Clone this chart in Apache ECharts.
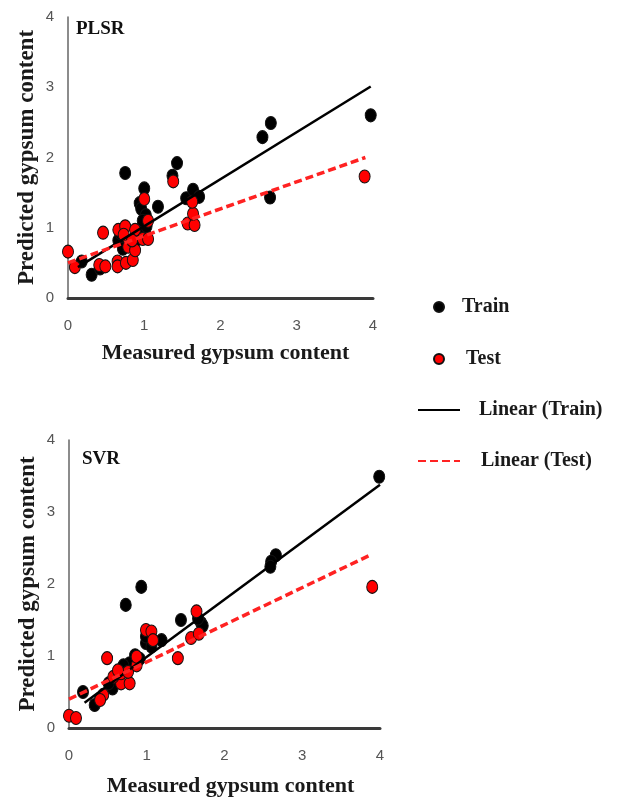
<!DOCTYPE html>
<html>
<head>
<meta charset="utf-8">
<script src="https://cdn.jsdelivr.net/npm/echarts@6/dist/echarts.min.js"></script>
<style>html,body{margin:0;padding:0;background:#fff;}#c{width:622px;height:798px;}</style>
</head>
<body>
<div id="c"></div>
<script>
// ---- data ----
var xTicks = [0, 1, 2, 3, 4];
var yTicks = [0, 1, 2, 3, 4];

var plsrTrain = [
  [3.97,2.60],[2.66,2.49],[2.55,2.29],[2.65,1.43],[1.43,1.92],[1.37,1.74],[0.75,1.78],
  [1.00,1.56],[1.18,1.30],[0.94,1.35],[0.96,1.27],[1.55,1.42],[1.64,1.54],[1.72,1.44],
  [1.02,1.18],[0.97,1.00],[0.66,0.82],[0.69,0.92],[0.18,0.52],[0.31,0.33],[0.42,0.42],
  [1.01,0.95],[1.03,1.02],[0.90,0.83],[0.98,1.10],[0.72,0.70]
];
var plsrTest = [
  [0.00,0.66],[0.09,0.44],[0.46,0.93],[0.41,0.47],[0.49,0.45],[0.65,0.52],[0.65,0.45],
  [0.76,0.50],[0.85,0.54],[0.66,0.97],[0.75,1.02],[0.88,0.97],[0.79,0.73],[0.88,0.68],
  [0.98,0.84],[1.05,0.84],[1.00,1.41],[1.05,1.10],[1.38,1.66],[1.57,1.06],[1.66,1.04],
  [1.64,1.20],[1.63,1.37],[3.89,1.73],[0.73,0.90],[0.84,0.82]
];
var plsrTrainFit = [[0.13,0.44],[3.97,3.01]];
var plsrTestFit = [[0.00,0.50],[3.90,2.00]];

var svrTrain = [
  [3.99,3.49],[2.66,2.40],[2.60,2.31],[2.59,2.24],[0.93,1.96],[0.73,1.71],[1.44,1.50],
  [1.70,1.46],[1.72,1.42],[1.19,1.22],[0.99,1.18],[1.06,1.13],[0.99,1.27],[0.85,1.01],
  [0.78,0.90],[0.70,0.87],[0.18,0.50],[0.33,0.32],[0.40,0.41],[0.56,0.55],[0.51,0.62],
  [0.91,0.96],[1.66,1.52]
];
var svrTest = [
  [0.00,0.17],[0.09,0.14],[0.49,0.97],[0.44,0.46],[0.40,0.39],[0.67,0.62],[0.78,0.62],
  [0.67,0.76],[0.76,0.78],[0.87,0.87],[0.99,1.36],[1.06,1.34],[1.08,1.22],[0.87,0.99],
  [1.40,0.97],[1.64,1.62],[1.57,1.25],[1.67,1.31],[3.90,1.96],[0.57,0.71],[0.63,0.80]
];
var svrTrainFit = [[0.20,0.35],[4.00,3.38]];
var svrTestFit = [[0.00,0.40],[3.87,2.40]];

var serifFont = "'Liberation Serif', 'DejaVu Serif', serif";
var tickFont = "'Liberation Sans Narrow', 'Liberation Sans', sans-serif";

function xAxisDef(gi, gap, shift) {
  return {
    gridIndex: gi, type: 'value', min: 0, max: 4, interval: 1,
    name: 'Measured gypsum content', nameLocation: 'middle', nameGap: gap,
    nameTextStyle: {fontFamily: serifFont, fontWeight: 'bold', fontSize: 22, color: '#1a1a1a', padding: [0, 0, 0, shift]},
    axisLine: {show: true, lineStyle: {color: '#3a3a3a', width: 3}},
    axisTick: {show: false}, splitLine: {show: false},
    axisLabel: {margin: 20, color: '#555', fontFamily: tickFont, fontSize: 15,
      formatter: function (v) { return xTicks.indexOf(v) >= 0 ? String(v) : ''; }}
  };
}
function yAxisDef(gi) {
  return {
    gridIndex: gi, type: 'value', min: 0, max: 4, interval: 1,
    name: 'Predicted gypsum content', nameLocation: 'middle', nameGap: 29,
    nameTextStyle: {fontFamily: serifFont, fontWeight: 'bold', fontSize: 23, color: '#1a1a1a'},
    axisLine: {show: true, onZero: false, lineStyle: {color: '#666', width: 1.5}},
    axisTick: {show: false}, splitLine: {show: false},
    axisLabel: {margin: 14, color: '#555', fontFamily: tickFont, fontSize: 15,
      formatter: function (v) { return yTicks.indexOf(v) >= 0 ? String(v) : ''; }}
  };
}
function scatter(name, data, gi, color) {
  return {
    name: name, type: 'scatter', xAxisIndex: gi, yAxisIndex: gi, data: data,
    symbol: 'circle', symbolSize: [11, 13], z: 2,
    itemStyle: {color: color, borderColor: '#111', borderWidth: 1, opacity: 1}
  };
}
function fitLine(name, data, gi, color, type, width) {
  return {
    name: name, type: 'line', xAxisIndex: gi, yAxisIndex: gi, data: data,
    symbol: 'none', z: 3, silent: true,
    lineStyle: {color: color, type: type, width: width}, itemStyle: {color: color}
  };
}
function legendItem(name, left, top, pad, w, h, hideSymbol) {
  var l = {
    data: [name], left: left, top: top, orient: 'vertical',
    itemWidth: w, itemHeight: h, selectedMode: false,
    textStyle: {fontFamily: serifFont, fontWeight: 'bold', fontSize: 20, color: '#1a1a1a', padding: [0, 0, 0, pad]}
  };
  if (hideSymbol) { l.itemStyle = {opacity: 0}; }
  return l;
}

var chart = echarts.init(document.getElementById('c'), null, {renderer: 'canvas'});
chart.setOption({
  animation: false,
  backgroundColor: '#fff',
  title: [
    {text: 'PLSR', left: 76, top: 20, padding: 0, textStyle: {fontFamily: serifFont, fontWeight: 'bold', fontSize: 19, color: '#111'}},
    {text: 'SVR', left: 82, top: 450, padding: 0, textStyle: {fontFamily: serifFont, fontWeight: 'bold', fontSize: 19, color: '#111'}}
  ],
  legend: [
    legendItem('Train', 428, 292, 13, 10, 13, false),
    legendItem('Test', 428, 344, 17, 10, 13, false),
    legendItem('Linear (Train)', 412, 395, 14, 42, 14, true),
    legendItem('Linear (Test)', 412, 446, 16, 42, 14, true)
  ],
  grid: [
    {left: 68, top: 17, width: 305, height: 281},
    {left: 69, top: 440, width: 311, height: 288}
  ],
  xAxis: [xAxisDef(0, 44, 10), xAxisDef(1, 47, 12)],
  yAxis: [yAxisDef(0), yAxisDef(1)],
  series: [
    scatter('Train', plsrTrain, 0, '#000'),
    scatter('Test', plsrTest, 0, '#f00'),
    fitLine('Linear (Train)', plsrTrainFit, 0, '#000', 'solid', 2.5),
    fitLine('Linear (Test)', plsrTestFit, 0, '#f22', [8, 4], 3.5),
    scatter('Train', svrTrain, 1, '#000'),
    scatter('Test', svrTest, 1, '#f00'),
    fitLine('Linear (Train)', svrTrainFit, 1, '#000', 'solid', 2.5),
    fitLine('Linear (Test)', svrTestFit, 1, '#f22', [8, 4], 3.5)
  ]
});
</script>
</body>
</html>
